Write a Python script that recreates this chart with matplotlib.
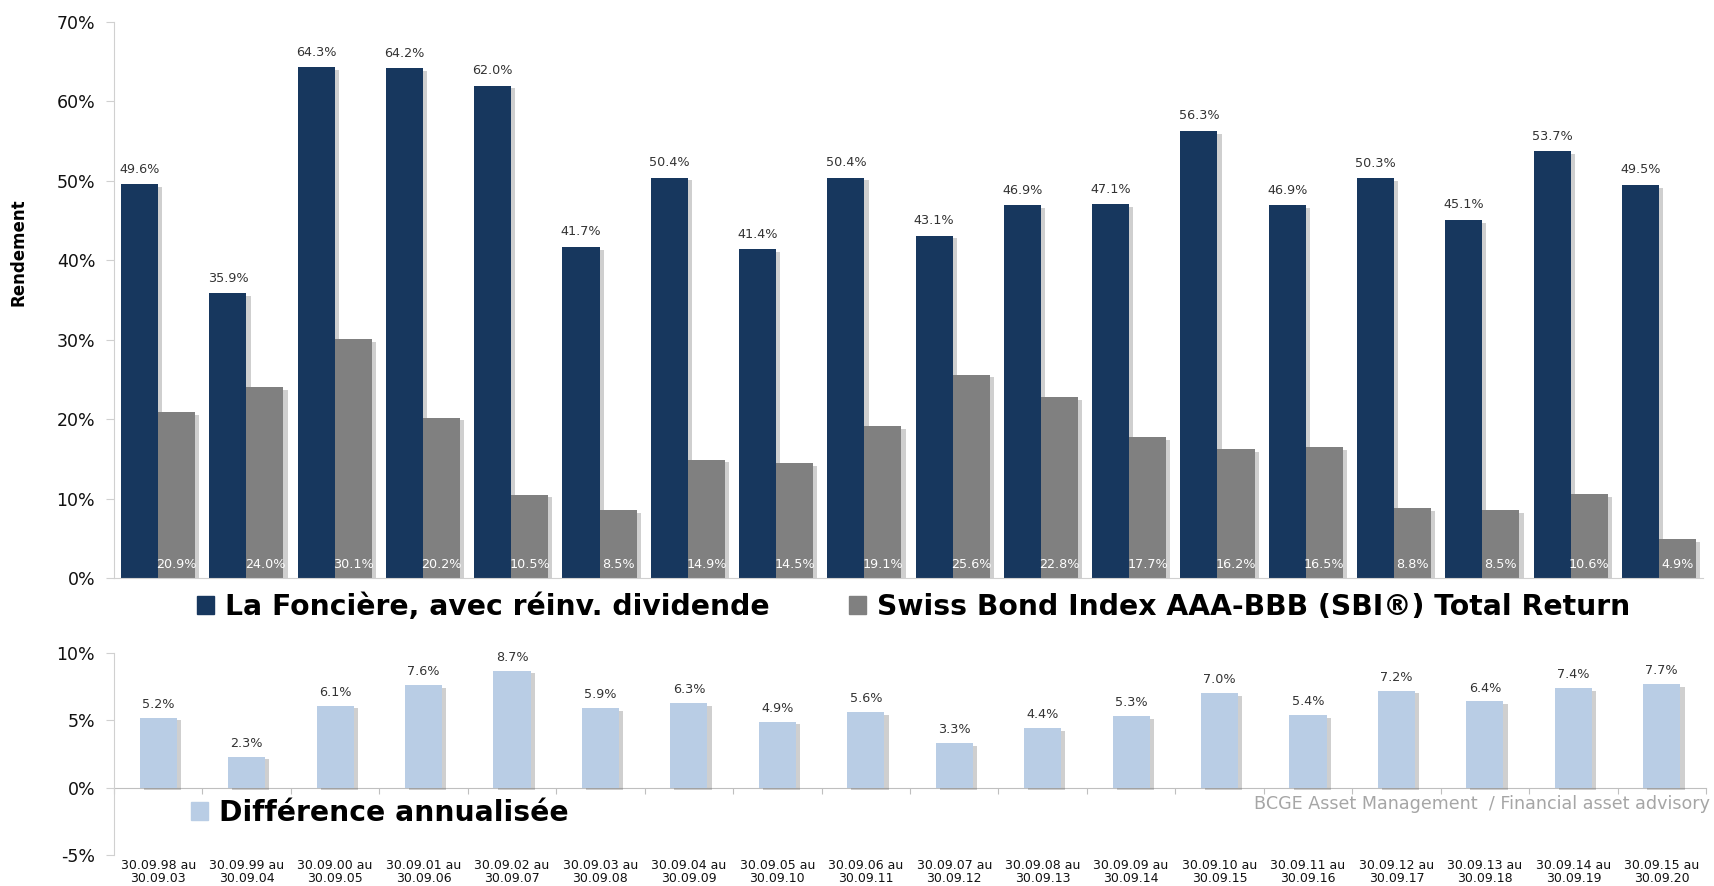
import numpy as np
import matplotlib
matplotlib.use("Agg")
import matplotlib.pyplot as plt
import matplotlib.patheffects as pe
from matplotlib.patches import Patch
from matplotlib.ticker import FuncFormatter

plt.rcParams['font.family'] = ['DejaVu Sans']

periods = ["30.09.98 au\n30.09.03", "30.09.99 au\n30.09.04", "30.09.00 au\n30.09.05",
           "30.09.01 au\n30.09.06", "30.09.02 au\n30.09.07", "30.09.03 au\n30.09.08",
           "30.09.04 au\n30.09.09", "30.09.05 au\n30.09.10", "30.09.06 au\n30.09.11",
           "30.09.07 au\n30.09.12", "30.09.08 au\n30.09.13", "30.09.09 au\n30.09.14",
           "30.09.10 au\n30.09.15", "30.09.11 au\n30.09.16", "30.09.12 au\n30.09.17",
           "30.09.13 au\n30.09.18", "30.09.14 au\n30.09.19", "30.09.15 au\n30.09.20"]
fonciere = [49.6, 35.9, 64.3, 64.2, 62.0, 41.7, 50.4, 41.4, 50.4,
            43.1, 46.9, 47.1, 56.3, 46.9, 50.3, 45.1, 53.7, 49.5]
sbi = [20.9, 24.0, 30.1, 20.2, 10.5, 8.5, 14.9, 14.5, 19.1,
       25.6, 22.8, 17.7, 16.2, 16.5, 8.8, 8.5, 10.6, 4.9]
diff = [5.2, 2.3, 6.1, 7.6, 8.7, 5.9, 6.3, 4.9, 5.6,
        3.3, 4.4, 5.3, 7.0, 5.4, 7.2, 6.4, 7.4, 7.7]

navy = '#17375E'
grey = '#808080'
light = '#B9CDE5'
axis_col = '#d0d0d0'

W, H = 1714, 886
fig = plt.figure(figsize=(W / 100, H / 100), dpi=100)

shadow = [pe.SimplePatchShadow(offset=(3, -2), shadow_rgbFace='#606060', alpha=0.3), pe.Normal()]
pct = FuncFormatter(lambda v, p: f"{v:.0f}%")
legend_font = {'weight': 'bold', 'size': 20.3}

# --- top panel ---
ax = fig.add_axes([114 / W, 1 - 578 / H, (1703 - 114) / W, (578 - 22) / H])
x = np.arange(len(periods))
w = 0.42
b1 = ax.bar(x - w / 2, fonciere, w, color=navy)
b2 = ax.bar(x + w / 2, sbi, w, color=grey)
for r in list(b1) + list(b2):
    r.set_path_effects(shadow)

for xi, v in zip(x, fonciere):
    ax.annotate(f"{v:.1f}%", (xi - w / 2, v), xytext=(0, 6), textcoords='offset points',
                ha='center', va='bottom', fontsize=9.2, color='#333333')
for xi, v in zip(x, sbi):
    ax.annotate(f"{v:.1f}%", (xi + w / 2, 0), xytext=(0, 10), textcoords='offset points',
                ha='center', va='center', fontsize=9.2, color='white')

ax.set_xlim(-0.5, len(periods) - 0.5)
ax.set_ylim(0, 70)
ax.set_yticks(np.arange(0, 71, 10))
ax.yaxis.set_major_formatter(pct)
ax.set_xticks([])
for s in ['top', 'right']:
    ax.spines[s].set_visible(False)
for s in ['left', 'bottom']:
    ax.spines[s].set_color(axis_col)
ax.tick_params(axis='y', colors=axis_col, labelcolor='#111111', labelsize=12.5, length=5.5, pad=8)
fig.text(19 / W, 1 - 252 / H, "Rendement", rotation=90, ha='center', va='center',
         fontsize=12, fontweight='bold')

handles = [Patch(color=navy, label="La Foncière, avec réinv. dividende"),
           Patch(color=grey, label="Swiss Bond Index AAA-BBB (SBI®) Total Return")]
ax.legend(handles=handles, loc='center left', bbox_to_anchor=(197 / W, 1 - 607 / H),
          bbox_transform=fig.transFigure, ncol=2, frameon=False, prop=legend_font,
          handlelength=0.6, handleheight=0.6, handletextpad=0.4, columnspacing=2.8,
          borderpad=0, borderaxespad=0)

# --- bottom panel ---
ax2 = fig.add_axes([114 / W, 1 - 855 / H, (1706 - 114) / W, (855 - 653) / H])
b3 = ax2.bar(x, diff, 0.42, color=light)
for r in b3:
    r.set_path_effects(shadow)
for xi, v in zip(x, diff):
    ax2.annotate(f"{v:.1f}%", (xi, v), xytext=(0, 5), textcoords='offset points',
                 ha='center', va='bottom', fontsize=9.2, color='#333333')

ax2.set_xlim(-0.5, len(periods) - 0.5)
ax2.set_ylim(-5, 10)
ax2.set_yticks([-5, 0, 5, 10])
ax2.yaxis.set_major_formatter(pct)
ax2.set_xticks(x)
ax2.set_xticklabels(periods, fontsize=9, color='#111111', linespacing=1.0)
ax2.tick_params(axis='x', length=0, pad=3)
for s in ['top', 'right', 'bottom']:
    ax2.spines[s].set_visible(False)
ax2.spines['left'].set_color(axis_col)
ax2.tick_params(axis='y', colors=axis_col, labelcolor='#111111', labelsize=12.5, length=5.5, pad=8)

zero = ax2.secondary_xaxis(1 / 3)
zero.set_xticks(np.arange(-0.5, len(periods), 1))
zero.set_xticklabels([])
zero.spines['bottom'].set_color('#bfbfbf')
zero.tick_params(axis='x', colors='#bfbfbf', length=4)

ax2.legend(handles=[Patch(color=light, label="Différence annualisée")], loc='center left',
           bbox_to_anchor=(191 / W, 1 - 813 / H), bbox_transform=fig.transFigure,
           frameon=False, prop=legend_font,
           handlelength=0.6, handleheight=0.6, handletextpad=0.4, borderpad=0, borderaxespad=0)

fig.text(1710 / W, 1 - 804 / H, "BCGE Asset Management  / Financial asset advisory",
         ha='right', va='center', fontsize=12.6, color='#a6a6a6')

fig.savefig("out.png", dpi=100)
